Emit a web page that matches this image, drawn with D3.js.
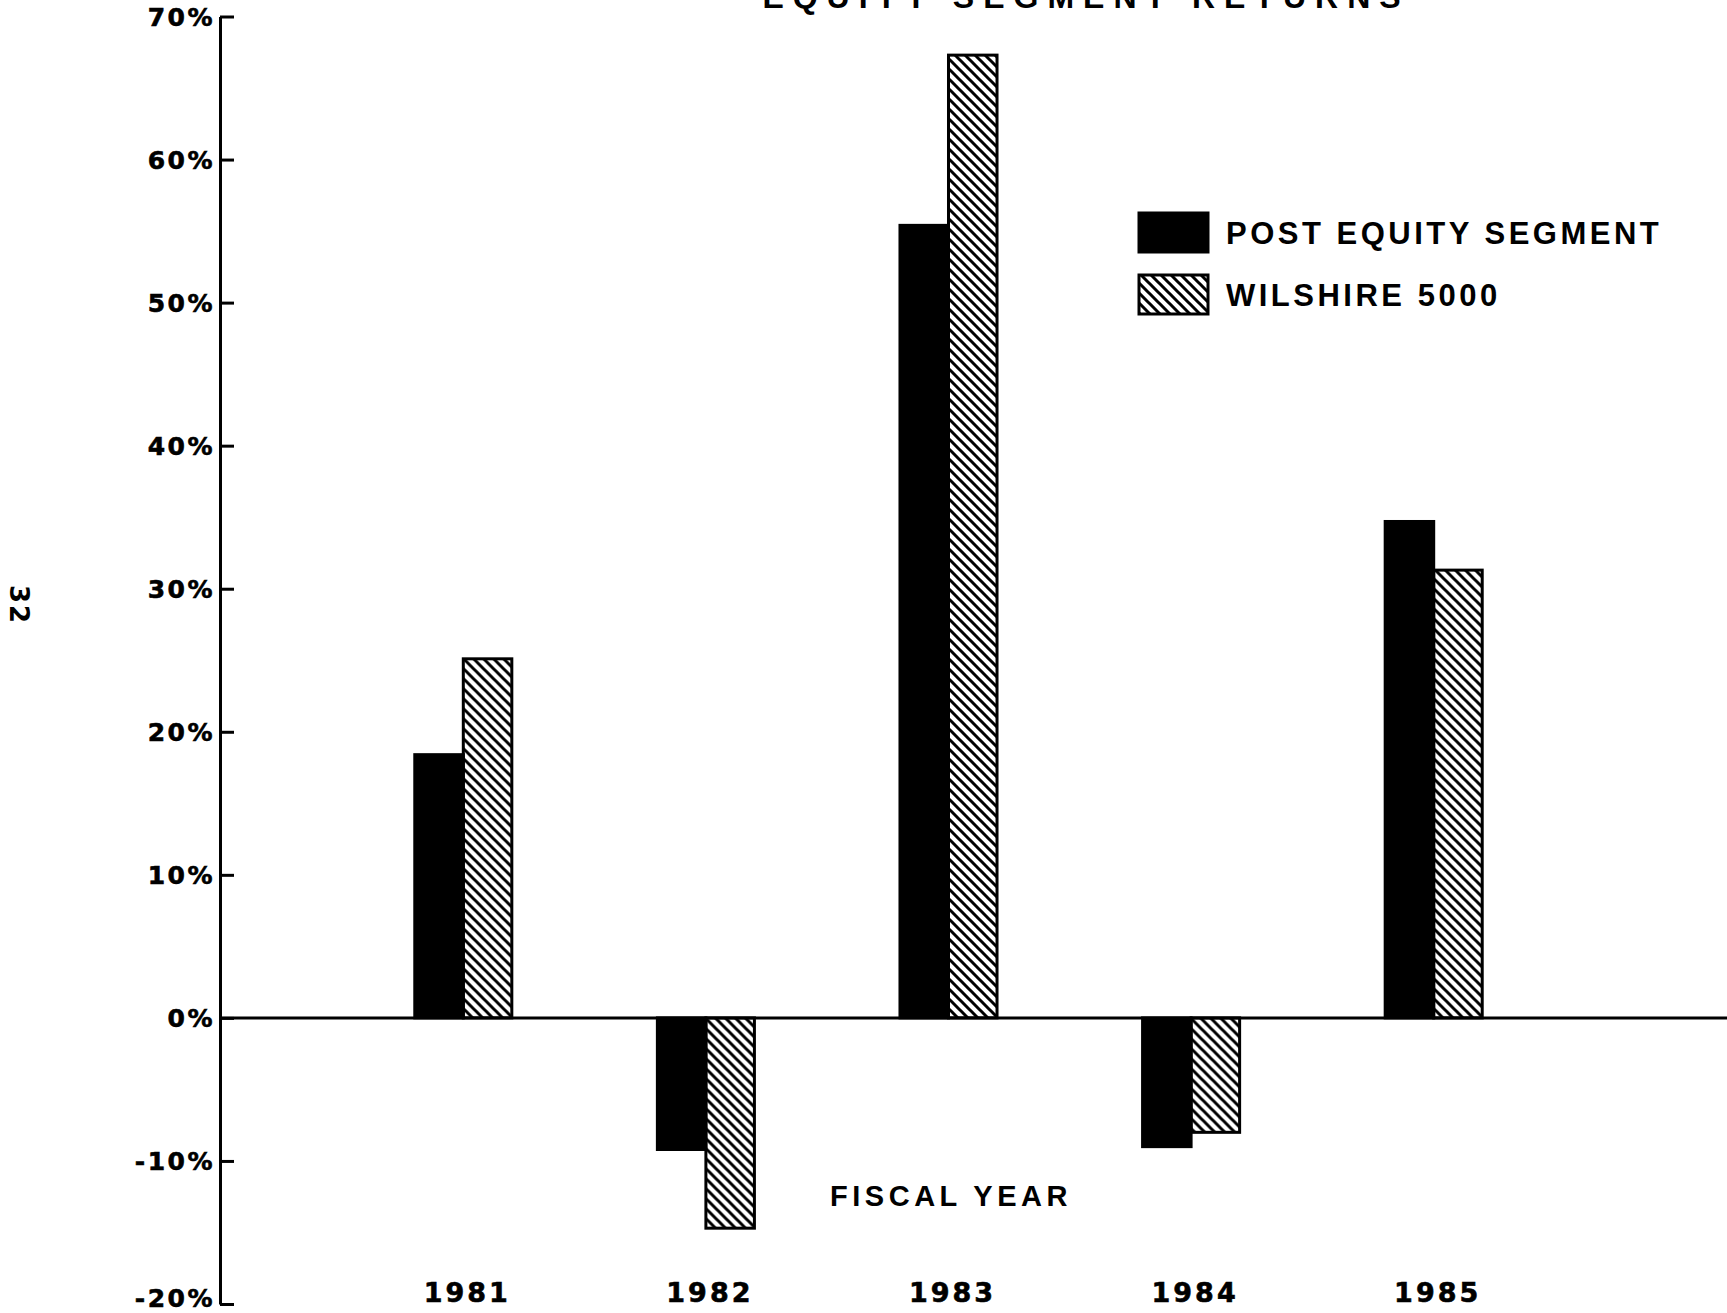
<!DOCTYPE html>
<html>
<head>
<meta charset="utf-8">
<script src="https://cdn.jsdelivr.net/npm/d3@7"></script>
<style>
  body { margin: 0; background: #fff; }
  svg { display: block; }
  text { font-family: "Liberation Sans", Arial, sans-serif; font-weight: bold; fill: #000; }
</style>
</head>
<body>
<svg width="1727" height="1313"></svg>
<script>
// data (percent)
const years = ['1981', '1982', '1983', '1984', '1985'];
const seriesNames = ['POST EQUITY SEGMENT', 'WILSHIRE 5000'];
const postEquity = [18.4, -9.2, 55.4, -9.0, 34.7];
const wilshire = [25.1, -14.7, 67.3, -8.0, 31.3];
const yTicks = [-20, -10, 0, 10, 20, 30, 40, 50, 60, 70];

const svg = d3.select('svg');
const width = +svg.attr('width');
const height = +svg.attr('height');

const axisX = 220;
const wideFont = '"DejaVu Sans", Verdana, sans-serif';

// hatch pattern for the Wilshire bars
const defs = svg.append('defs');
defs.append('pattern')
    .attr('id', 'hatch')
    .attr('patternUnits', 'userSpaceOnUse')
    .attr('width', 10)
    .attr('height', 10)
  .append('path')
    .attr('d', 'M-1,-1 L11,11 M-3,7 L3,13 M7,-3 L13,3')
    .attr('stroke', '#000')
    .attr('stroke-width', 3);

const y = d3.scaleLinear()
    .domain([-20, 70])
    .range([1304, 16.5]);

const x = d3.scaleBand()
    .domain(years)
    .range([342, 1555])
    .paddingInner(0.6)
    .paddingOuter(0.3);

const xSub = d3.scaleBand()
    .domain(seriesNames)
    .range([0, x.bandwidth()]);

const fills = ['#000', 'url(#hatch)'];

const rows = years.map((yr, i) => ({
  year: yr,
  values: [postEquity[i], wilshire[i]]
}));

// title (cut off at the top of the page)
svg.append('text')
    .attr('x', 1086)
    .attr('y', 8)
    .attr('text-anchor', 'middle')
    .style('font-size', '32px')
    .style('letter-spacing', '9px')
    .text('EQUITY SEGMENT RETURNS');

// page number
svg.append('text')
    .attr('transform', 'translate(10,605) rotate(90)')
    .attr('text-anchor', 'middle')
    .style('font-family', wideFont)
    .style('font-size', '26px')
    .style('letter-spacing', '2px')
    .text('32');

// bars
const groups = svg.selectAll('g.year')
  .data(rows)
  .enter().append('g')
    .attr('class', 'year')
    .attr('transform', d => `translate(${x(d.year)},0)`);

groups.selectAll('rect')
  .data(d => d.values.map((v, j) => ({ name: seriesNames[j], value: v, j: j })))
  .enter().append('rect')
    .attr('x', d => xSub(d.name))
    .attr('width', xSub.bandwidth())
    .attr('y', d => y(Math.max(0, d.value)))
    .attr('height', d => Math.abs(y(d.value) - y(0)))
    .attr('fill', d => fills[d.j])
    .attr('stroke', '#000')
    .attr('stroke-width', 3);

// zero line across to the page edge
svg.append('line')
    .attr('x1', axisX)
    .attr('x2', width)
    .attr('y1', y(0))
    .attr('y2', y(0))
    .attr('stroke', '#000')
    .attr('stroke-width', 3);

// y axis, ticks pointing into the plot
const yAxis = d3.axisLeft(y)
    .tickValues(yTicks)
    .tickFormat(d => d + '%')
    .tickSizeInner(-14)
    .tickSizeOuter(0)
    .tickPadding(5);

const yAxisG = svg.append('g')
    .attr('transform', `translate(${axisX},0)`)
    .call(yAxis);
yAxisG.select('.domain').attr('stroke-width', 3);
yAxisG.selectAll('.tick line').attr('stroke-width', 3);
yAxisG.selectAll('.tick text')
    .style('font-size', '25px')
    .style('letter-spacing', '2.5px')
    .style('font-family', wideFont)
    .attr('stroke', '#000')
    .attr('stroke-width', 0.6)
    .attr('dy', d => d === -20 ? '0.08em' : '0.36em');

// year labels along the bottom
const xAxis = d3.axisBottom(x)
    .tickSize(0)
    .tickPadding(0);

const xAxisG = svg.append('g')
    .attr('transform', 'translate(4,1302)')
    .call(xAxis);
xAxisG.select('.domain').remove();
xAxisG.selectAll('.tick text')
    .attr('y', 0)
    .attr('dy', 0)
    .attr('stroke', '#000')
    .attr('stroke-width', 0.6)
    .style('font-size', '27px')
    .style('letter-spacing', '3px')
    .style('font-family', wideFont);

// axis title
svg.append('text')
    .attr('x', 951)
    .attr('y', 1206)
    .attr('text-anchor', 'middle')
    .style('font-size', '29px')
    .style('letter-spacing', '4.5px')
    .text('FISCAL YEAR');

// legend
const legend = svg.append('g')
    .attr('transform', 'translate(1139,213)');

legend.selectAll('rect')
  .data(seriesNames)
  .enter().append('rect')
    .attr('x', 0)
    .attr('y', (d, i) => i * 62)
    .attr('width', 69)
    .attr('height', 39)
    .attr('fill', (d, i) => fills[i])
    .attr('stroke', '#000')
    .attr('stroke-width', 3);

legend.selectAll('text')
  .data(seriesNames)
  .enter().append('text')
    .attr('x', 87)
    .attr('y', (d, i) => 31 + i * 62)
    .style('font-size', '31px')
    .style('letter-spacing', '3.5px')
    .text(d => d);
</script>
</body>
</html>
